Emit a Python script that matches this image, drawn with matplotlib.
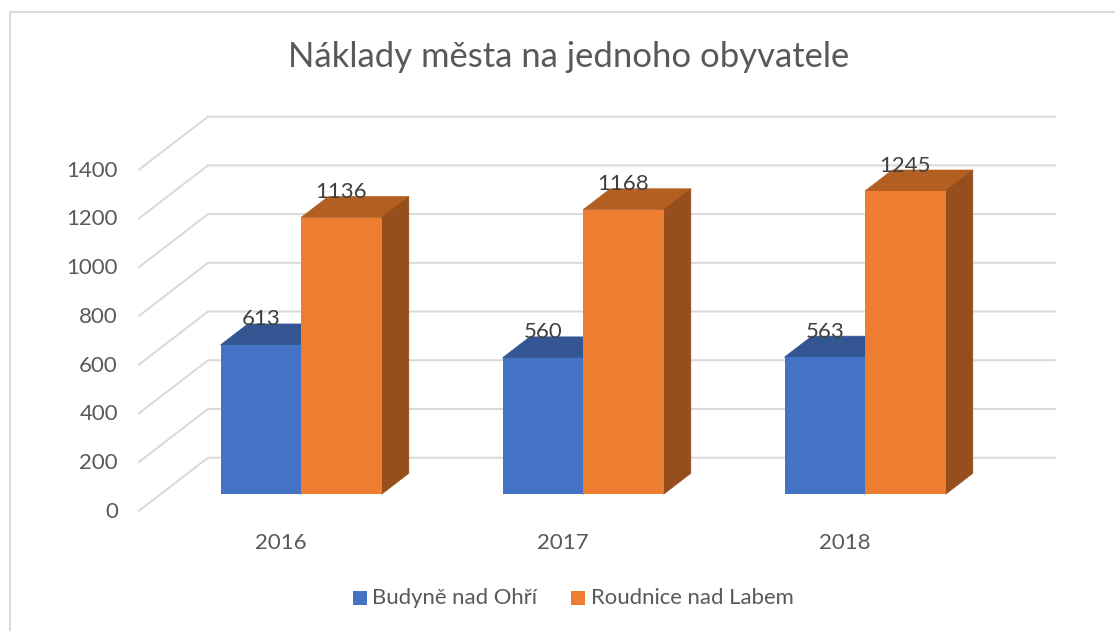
import matplotlib
matplotlib.use('Agg')
import matplotlib.pyplot as plt
from matplotlib.lines import Line2D
from matplotlib.patches import Polygon, Rectangle

plt.rcParams['font.family'] = ['Lato', 'DejaVu Sans']

# Data
roky = ['2016', '2017', '2018']
budyne = [613, 560, 563]
roudnice = [1136, 1168, 1245]
serie = [budyne, roudnice]
nazvy = ['Budyně nad Ohří', 'Roudnice nad Labem']
y_ticks = [0, 200, 400, 600, 800, 1000, 1200, 1400]

# colours: front, top, side
barvy = [('#4472C4', '#335693', '#2F5597'), ('#ED7D31', '#B45F22', '#964F1C')]
seda = '#D9D9D9'
text_barva = '#595959'

W, H = 1115, 631
PX_X = 282.0    # px per category
PX_Y = 0.2436   # px per value unit
X0, Y0 = 301.0, 494.3   # px position of first category / zero
sirka = 80.5 / PX_X
hloubka_x = 27.3 / PX_X
hloubka_y = 21.0 / PX_Y

fig = plt.figure(figsize=(W / 100, H / 100), dpi=100)
ax = fig.add_axes([0, 0, 1, 1])
ax.set_xlim(-X0 / PX_X, (W - X0) / PX_X)
ax.set_ylim((Y0 - H) / PX_Y, Y0 / PX_Y)
ax.axis('off')

# walls offsets relative to bar front plane
stena_x0 = (139 - X0) / PX_X
stena_x1 = (208 - X0) / PX_X
stena_x2 = (1055 - X0) / PX_X
predni_y = -16.4 / PX_Y
zadni_y = 36.6 / PX_Y

for t in y_ticks:
    ax.plot([stena_x0, stena_x1, stena_x2], [t + predni_y, t + zadni_y, t + zadni_y],
            color=seda, lw=1.4, solid_joinstyle='miter', zorder=1)
    ax.text((118 - X0) / PX_X, t + predni_y - 1 / PX_Y, str(t), ha='right', va='center',
            fontsize=16, color=text_barva, zorder=5)

for i, rok in enumerate(roky):
    for j, hodnoty in enumerate(serie):
        v = hodnoty[i]
        x = i + (j - 1) * sirka
        front, top, side = barvy[j]
        ax.add_patch(Polygon([(x, v), (x + hloubka_x, v + hloubka_y),
                              (x + sirka + hloubka_x, v + hloubka_y), (x + sirka, v)],
                             facecolor=top, edgecolor=top, lw=0.5, zorder=2 + j))
        ax.add_patch(Polygon([(x + sirka, 0), (x + sirka + hloubka_x, hloubka_y),
                              (x + sirka + hloubka_x, v + hloubka_y), (x + sirka, v)],
                             facecolor=side, edgecolor=side, lw=0.5, zorder=2 + j))
        ax.bar(x, v, width=sirka, align='edge', color=front, zorder=2.5 + j)
        ax.text(x + sirka / 2, v + 25.5 / PX_Y, str(v), ha='center', va='center',
                fontsize=16, color='#404040', zorder=6)
    ax.text(i - 20 / PX_X, -49 / PX_Y, rok, ha='center', va='center', fontsize=16, color=text_barva)

# title and frame (only left and top edges are visible)
fig.text(569 / W, 1 - 57 / H, 'Náklady města na jednoho obyvatele', ha='center', va='center',
         fontsize=24.9, color=text_barva)
fig.add_artist(Line2D([9.5 / W, 9.5 / W, 1], [0, 1 - 12 / H, 1 - 12 / H], transform=fig.transFigure,
                      color=seda, lw=1.4, solid_joinstyle='miter'))

# legend
fig.patches.append(Rectangle((353 / W, 1 - 605 / H), 14 / W, 14 / H, transform=fig.transFigure,
                             facecolor=barvy[0][0], edgecolor='none'))
fig.patches.append(Rectangle((571 / W, 1 - 605 / H), 14 / W, 14 / H, transform=fig.transFigure,
                             facecolor=barvy[1][0], edgecolor='none'))
fig.text(372 / W, 1 - 598.5 / H, nazvy[0], ha='left', va='center', fontsize=15.9, color=text_barva)
fig.text(591 / W, 1 - 598.5 / H, nazvy[1], ha='left', va='center', fontsize=15.9, color=text_barva)

fig.savefig('out.png', dpi=100)
